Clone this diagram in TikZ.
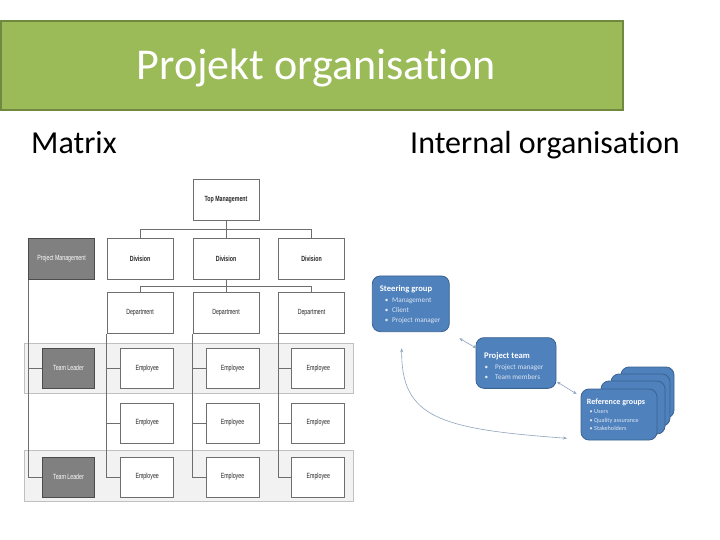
\documentclass[tikz,border=0pt]{standalone}
\usepackage{fontspec}
\setmainfont{Carlito}[Ligatures=NoCommon]
\newfontfamily\narrowfont[FakeStretch=0.7]{Liberation Sans}
\usetikzlibrary{arrows.meta,calc}
\definecolor{titlegreen}{HTML}{9BBB59}
\definecolor{titleborder}{HTML}{71893F}
\definecolor{boxblue}{HTML}{4F81BD}
\definecolor{boxborder}{HTML}{3A6390}
\definecolor{lightbullet}{HTML}{DCE6F2}
\definecolor{arrowgray}{HTML}{8FA3BF}
\definecolor{chartline}{HTML}{6E6E6E}
\definecolor{leadergray}{HTML}{808080}
\definecolor{bandfill}{HTML}{F2F2F2}
\definecolor{bandline}{HTML}{C0C0C0}
\begin{document}
\begin{tikzpicture}[x=1pt,y=-1pt,
  mbox/.style={draw=chartline, line width=0.8pt, fill=white, inner sep=0pt, font=\narrowfont\fontsize{7.5}{8}\selectfont, text=black!85},
  wide/.style={minimum width=66pt, minimum height=41pt},
  emp/.style={minimum width=53pt, minimum height=40pt},
  lead/.style={fill=leadergray, draw=black!70, text=white},
  conn/.style={draw=chartline, line width=0.7pt},
  band/.style={draw=bandline, fill=bandfill, line width=0.6pt},
  bluebox/.style={draw=boxborder, fill=boxblue, rounded corners=8pt, line width=0.8pt},
  gtitle/.style={anchor=base west, text=white, font=\bfseries\fontsize{8.6}{10}\selectfont, inner sep=0pt},
  gitem/.style={anchor=base west, text=lightbullet, font=\fontsize{7.2}{8}\selectfont, inner sep=0pt},
  biarrow/.style={draw=arrowgray, line width=0.6pt, {Stealth[length=4pt,width=3pt]}-{Stealth[length=4pt,width=3pt]}}
]
\useasboundingbox (0,0) rectangle (720,540);
\fill[white] (0,0) rectangle (720,540);

% title band
\node[draw=titleborder, line width=2pt, fill=titlegreen, minimum width=622pt, minimum height=89pt, anchor=north west, inner sep=0pt] (band) at (0,20) {};
\node[anchor=base, text=white, font=\fontsize{44}{48}\selectfont, inner sep=0pt] (title) at (316,80) {Projekt organisation};
\node[anchor=base west, font=\fontsize{32}{36}\selectfont, inner sep=0pt] (matrix) at (31,153.5) {Matrix};
\node[anchor=base west, font=\fontsize{32}{36}\selectfont, inner sep=0pt] (internal) at (410,153.5) {Internal organisation};

% ---------------- matrix chart ----------------
\node[band, minimum width=328.7pt, minimum height=50.6pt, anchor=north west, inner sep=0pt] (band1) at (24,342.7) {};
\node[band, minimum width=328.7pt, minimum height=50.7pt, anchor=north west, inner sep=0pt] (band2) at (24,450) {};

\node[mbox, wide, font=\narrowfont\bfseries\fontsize{7.5}{8}\selectfont] (top) at (226,199.5) {Top Management};
\node[mbox, wide, font=\narrowfont\bfseries\fontsize{7.5}{8}\selectfont] (d1) at (140,258.6) {Division};
\node[mbox, wide, font=\narrowfont\bfseries\fontsize{7.5}{8}\selectfont] (d2) at (226,258.6) {Division};
\node[mbox, wide, font=\narrowfont\bfseries\fontsize{7.5}{8}\selectfont] (d3) at (311.5,258.6) {Division};
\node[mbox, wide, lead] (pm) at (61.5,258.6) {Project Management};
\node[mbox, wide] (p1) at (140,313) {Department};
\node[mbox, wide] (p2) at (226,313) {Department};
\node[mbox, wide] (p3) at (311.5,313) {Department};

\foreach \r/\y in {1/368.3,2/423,3/477}{
  \node[mbox, emp] (e1\r) at (147.2,\y) {Employee};
  \node[mbox, emp] (e2\r) at (232.5,\y) {Employee};
  \node[mbox, emp] (e3\r) at (318.3,\y) {Employee};
}
\node[mbox, emp, minimum width=52pt, lead] (tl1) at (68.5,368.3) {Team Leader};
\node[mbox, emp, minimum width=52pt, lead] (tl2) at (68.5,477) {Team Leader};

\coordinate (j1) at (226,229.3);
\coordinate (j2) at (226,286.7);
\draw[conn] (top.south) -- (j1);
\draw[conn] (d1.north) |- (j1) -| (d3.north);
\draw[conn] (j1) -- (d2.north);
\draw[conn] (d2.south) -- (j2);
\draw[conn] (p1.north) |- (j2) -| (p3.north);
\draw[conn] (j2) -- (p2.north);

\foreach \c in {1,2,3}{
  \draw[conn] (p\c.south west) |- (e\c3.west);
  \draw[conn] (p\c.south west |- e\c1.west) -- (e\c1.west);
  \draw[conn] (p\c.south west |- e\c2.west) -- (e\c2.west);
}
\draw[conn] (pm.south west) |- (tl2.west);
\draw[conn] (pm.south west |- tl1.west) -- (tl1.west);

% ---------------- internal organisation ----------------
\draw[bluebox] (621,367) rectangle (674,418);
\draw[bluebox] (611,374) rectangle (670,426);
\draw[bluebox] (601,381) rectangle (665,434);
\node[bluebox, minimum width=76pt, minimum height=51pt, inner sep=0pt] (ref) at (619,414.5) {};
\node[bluebox, minimum width=77pt, minimum height=55.7pt, inner sep=0pt] (steer) at (410.8,303.8) {};
\node[bluebox, minimum width=80pt, minimum height=50.7pt, inner sep=0pt] (team) at (516,363) {};

\node[gtitle] (steerT) at (379.7,291.3) {Steering group};
\node[gitem] (s1) at (384.7,302) {\makebox[7.3pt][l]{•}Management};
\node[gitem] (s2) at (384.7,312) {\makebox[7.3pt][l]{•}Client};
\node[gitem] (s3) at (384.7,322.5) {\makebox[7.3pt][l]{•}Project manager};

\node[gtitle] (teamT) at (484,358) {Project team};
\node[gitem] (t1) at (484.3,369) {\makebox[10.7pt][l]{•}Project manager};
\node[gitem] (t2) at (484.3,379.5) {\makebox[10.7pt][l]{•}Team members};

\node[gtitle, font=\bfseries\fontsize{8.1}{10}\selectfont] (refT) at (586.7,404.5) {Reference groups};
\node[gitem, font=\fontsize{6.2}{7}\selectfont] (r1) at (589.3,413.8) {\makebox[4.7pt][l]{•}Users};
\node[gitem, font=\fontsize{6.2}{7}\selectfont] (r2) at (589.3,422.2) {\makebox[4.7pt][l]{•}Quality assurance};
\node[gitem, font=\fontsize{6.2}{7}\selectfont] (r3) at (589.3,430.5) {\makebox[4.7pt][l]{•}Stakeholders};

\coordinate (a1s) at (459.3,338.3);
\coordinate (a1e) at (476.7,348.3);
\coordinate (a2s) at (556.7,381.7);
\coordinate (a2e) at (576.7,394);
\coordinate (a3s) at (401.7,348.3);
\coordinate (a3e) at (567,438.3);
\draw[biarrow] (a1s) -- (a1e);
\draw[biarrow] (a2s) -- (a2e);
\draw[biarrow] (a3s) .. controls (401,418) and (440,429) .. (a3e);
\end{tikzpicture}
\end{document}
